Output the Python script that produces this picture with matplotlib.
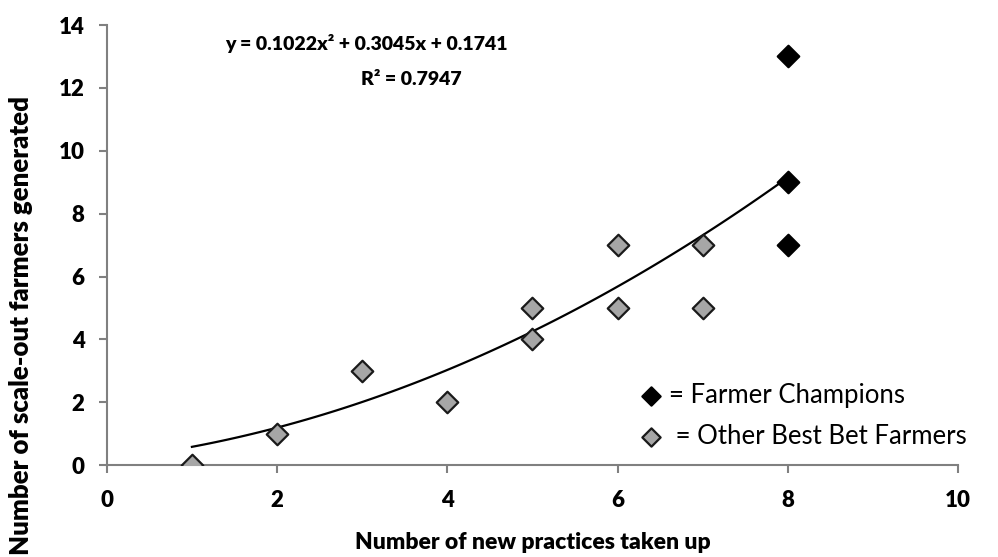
import matplotlib
matplotlib.use('Agg')
import matplotlib.pyplot as plt
import numpy as np

# Farmer champions (black) and other best bet farmers (grey)
champ_x = [8, 8, 8]
champ_y = [13, 9, 7]
other_x = [1, 2, 3, 4, 5, 5, 6, 6, 7, 7]
other_y = [0, 1, 3, 2, 5, 4, 7, 5, 7, 5]

# Polynomial trend line coefficients (from the chart)
coef = [0.1022, 0.3045, 0.1741]
r2 = 0.7947

x_ticks = [0, 2, 4, 6, 8, 10]
y_ticks = [0, 2, 4, 6, 8, 10, 12, 14]

plt.rcParams['font.family'] = ['Lato', 'DejaVu Sans']

fig = plt.figure(figsize=(9.98, 5.57), dpi=100)
ax = fig.add_axes([0.107, 0.165, 0.853, 0.79])

# Trend line from first to last x
tx = np.linspace(min(other_x + champ_x), max(other_x + champ_x), 100)
ax.plot(tx, np.polyval(coef, tx), color='black', lw=1.6, zorder=2)

ax.scatter(other_x, other_y, marker='D', s=120, facecolor='#a6a6a6',
           edgecolor='#1a1a1a', linewidth=1.6, zorder=3,
           label=' = Other Best Bet Farmers')
ax.scatter(champ_x, champ_y, marker='D', s=120, facecolor='black',
           edgecolor='black', linewidth=1.6, zorder=4,
           label='= Farmer Champions')

ax.set_xlim(0, 10)
ax.set_ylim(0, 14)
ax.set_xticks(x_ticks)
ax.set_yticks(y_ticks)
ax.tick_params(axis='both', colors='#808080', length=6, width=1.5,
               labelcolor='black', labelsize=16)
ax.tick_params(axis='x', pad=12)
ax.tick_params(axis='y', pad=10)
for lab in ax.get_xticklabels() + ax.get_yticklabels():
    lab.set_fontweight('heavy')
ax.spines['top'].set_visible(False)
ax.spines['right'].set_visible(False)
for sp in ['left', 'bottom']:
    ax.spines[sp].set_color('#808080')
    ax.spines[sp].set_linewidth(1.5)

# Equation text
ax.text(3.05, 13.4, 'y = %.4fx² + %.4fx + %.4f' % tuple(coef),
        ha='center', va='center', fontsize=14, fontweight='heavy')
ax.text(3.58, 12.28, 'R² = %.4f' % r2,
        ha='center', va='center', fontsize=14, fontweight='heavy')

# Legend
handles, labels = ax.get_legend_handles_labels()
ax.legend(handles[::-1], labels[::-1], loc='lower right',
          bbox_to_anchor=(1.037, -0.015), frameon=False, fontsize=18.5,
          handletextpad=0.2, labelspacing=0.62, markerscale=0.85,
          handlelength=1.0)

fig.text(0.534, 0.026, 'Number of new practices taken up', ha='center',
         va='center', fontsize=16.5, fontweight='heavy')
fig.text(0.021, 0.415, 'Number of scale-out farmers generated', ha='center',
         va='center', rotation=90, fontsize=18.5, fontweight='heavy')

fig.savefig('out.png', dpi=100)
